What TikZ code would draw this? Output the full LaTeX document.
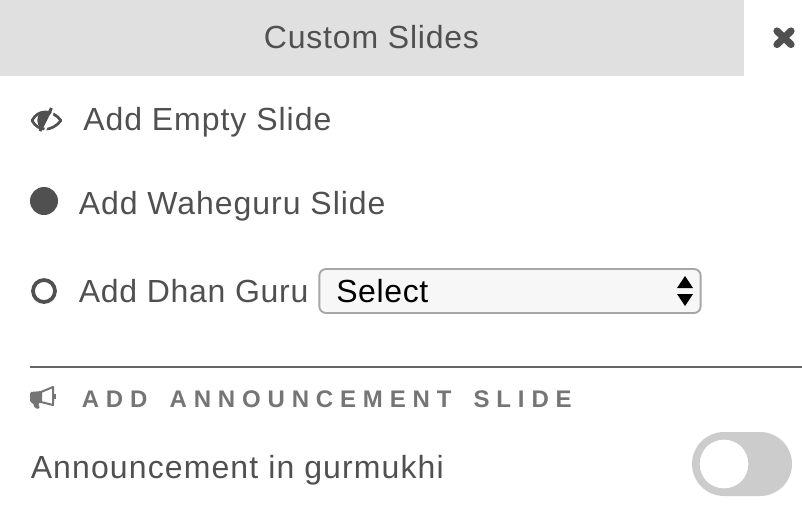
\documentclass[tikz,border=0pt]{standalone}
\usepackage{fontspec}
\setmainfont{Liberation Sans}
\usetikzlibrary{positioning}
\definecolor{textGray}{HTML}{505050}
\definecolor{headGray}{HTML}{E0E0E0}
\definecolor{subGray}{HTML}{757575}
\tikzset{
	rowLabel/.style={anchor=base west, inner sep=0pt, text=textGray, font=\fontsize{24}{28}\selectfont},
}
\begin{document}
\begin{tikzpicture}[x=0.75pt, y=-0.75pt]
		\useasboundingbox (0,0) rectangle (802,510);
		\node[rectangle, fill=headGray, minimum width=558pt, minimum height=57pt, inner sep=0pt, anchor=north west](headerBox) at (0,0){};
		\node[anchor=base, text=textGray, inner sep=0pt, font=\fontsize{24}{28}\selectfont](headerLabel) at (371.5,49){\addfontfeature{LetterSpace=2.5}Custom Slides};
		% close cross
		\draw[textGray, line width=5.4pt, line cap=round] (777,31) -- (791,44.5) (791,31) -- (777,44.5);
		% eye with slash
		\draw[textGray, line width=2pt, line join=round] (32,120.5) .. controls (38,109) and (52,109) .. (61,120.5) .. controls (52,132) and (38,132) .. (32,120.5) -- cycle;
		\fill[textGray] (49,111) -- (41,112) .. controls (36,116) and (36,124) .. (41,129) -- cycle;
		\draw[white, line width=1.5pt] (55,107) -- (44,133);
		\draw[textGray, line width=2.2pt] (51.5,108) -- (40,131);
		\node[rowLabel](emptyLabel) at (83,130){\addfontfeature{LetterSpace=3}Add Empty Slide};
		% radio buttons
		\node[circle, fill=textGray, minimum size=21pt, inner sep=0pt](waheguruRadio) at (44,201){};
		\node[rowLabel](waheguruLabel) at (78.5,214){\addfontfeature{LetterSpace=3}Add Waheguru Slide};
		\node[circle, draw=textGray, line width=2.8pt, minimum size=16.5pt, inner sep=0pt](dhanRadio) at (44,291){};
		\node[rowLabel](dhanLabel) at (78.5,302.5){\addfontfeature{LetterSpace=2.3}Add Dhan Guru};
		% select box
		\node[rectangle, draw=black!35, fill=black!3, line width=1.4pt, rounded corners=5pt, minimum width=286pt, minimum height=33pt, inner sep=0pt](selectBox) at (510,291){};
		\node[anchor=base west, inner sep=0pt, text=black, font=\fontsize{24}{28}\selectfont](selectLabel) at (336,302){\addfontfeature{LetterSpace=2}Select};
		\fill[black] (685,276) -- (693,288) -- (677,288) -- cycle;
		\fill[black] (685,306) -- (693,294) -- (677,294) -- cycle;
		% separator
		\coordinate(ruleLeft) at (30,367);
		\coordinate(ruleRight) at (802,367);
		\draw[black!60, line width=1.2pt] (ruleLeft) -- (ruleRight);
		% megaphone
		\fill[subGray, rounded corners=1pt] (30,392) -- (42,391) -- (42,403) -- (38,403) -- (40,408.5) -- (35,408.5) -- (33,403) -- (30,402) -- cycle;
		\draw[subGray, line width=1.5pt, line join=round] (41,392) -- (53,387) -- (53,405) -- (41,402);
		\fill[subGray] (53,393.5) rectangle (56,398.5);
		\node[anchor=base west, inner sep=0pt, text=subGray, font=\fontsize{18}{22}\selectfont\bfseries](announceHead) at (81.5,407){\addfontfeature{LetterSpace=28.5}ADD\hspace{6.5pt} ANNOUNCEMENT\hspace{6.5pt} SLIDE};
		\node[rowLabel](gurmukhiLabel) at (30.5,478){\addfontfeature{LetterSpace=3.5}Announcement in gurmukhi};
		% toggle
		\node[rectangle, fill=black!20, rounded corners=24pt, minimum width=75pt, minimum height=48pt, inner sep=0pt](toggleBox) at (742,464){};
		\node[circle, fill=white, minimum size=36.5pt, inner sep=0pt](toggleKnob) at (724,464){};
	\end{tikzpicture}
\end{document}
